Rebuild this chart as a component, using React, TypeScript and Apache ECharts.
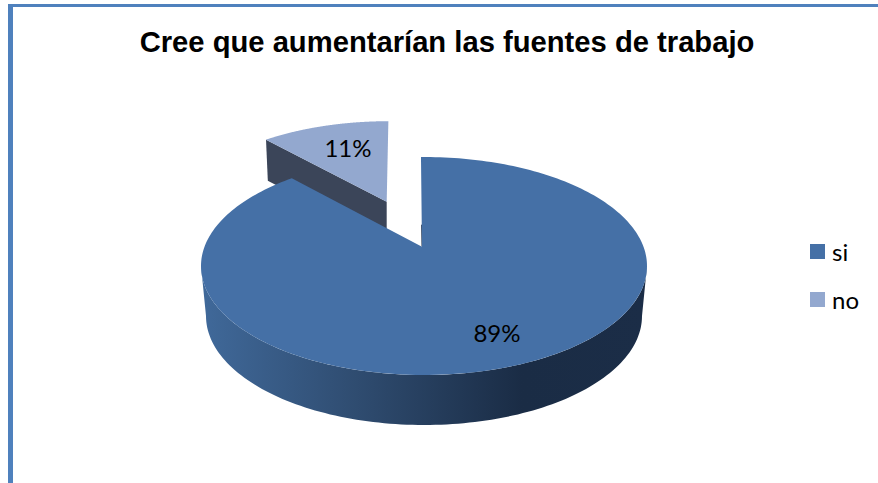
import React, { useEffect, useRef } from "react";
import * as echarts from "echarts";

const titleText = "Cree que aumentarían las fuentes de trabajo";
const categories = ["si", "no"];
const seriesValues = [89, 11];
const topColors = ["#4570A6", "#93A8CF"];
const sideStops = [
  { offset: 0, color: "#40699A" },
  { offset: 0.35, color: "#2F4C70" },
  { offset: 0.72, color: "#1A2C45" },
  { offset: 1, color: "#1B2D47" },
];
const wallColor = "#3B4559";

const total = seriesValues.reduce((a, b) => a + b, 0);
const toRad = (v: number) => (v / total) * Math.PI * 2;

// Point on an ellipse rim reached from an off-centre apex, for a clockwise-from-north angle
function rimPoint(e: any, angle: number) {
  const dx = Math.sin(angle + e.tilt) * e.rx;
  const dy = -Math.cos(angle + e.tilt) * e.rayRy;
  const px = (e.ax - e.cx) / e.rx;
  const py = (e.ay - e.cy) / e.ry;
  const qx = dx / e.rx;
  const qy = dy / e.ry;
  const a = qx * qx + qy * qy;
  const b = 2 * (px * qx + py * qy);
  const c = px * px + py * py - 1;
  const t = (-b + Math.sqrt(b * b - 4 * a * c)) / (2 * a);
  return [e.ax + t * dx, e.ay + t * dy];
}

function sector(e: any, from: number, to: number) {
  const pts: number[][] = [[e.ax, e.ay]];
  const n = 240;
  for (let i = 0; i <= n; i++) pts.push(rimPoint(e, from + ((to - from) * i) / n));
  return pts;
}

function lowerArc(cx: number, cy: number, rx: number, ry: number) {
  const pts: number[][] = [];
  for (let i = 0; i <= 120; i++) {
    const t = Math.PI - (Math.PI * i) / 120;
    pts.push([cx + rx * Math.cos(t), cy + ry * Math.sin(t)]);
  }
  return pts;
}

const mainDisc = { cx: 424, cy: 266, rx: 223, ry: 109, rayRy: 98, ax: 422, ay: 246.7, tilt: -0.005 };
const mainBase = { cx: 424, cy: 316, rx: 218, ry: 109 };
const smallDisc = { cx: 388.7, cy: 221.2, rx: 212, ry: 100, rayRy: 88.6, ax: 386.7, ay: 201.7, tilt: 0.0087 };
const smallDepth = 41;

const labelStyle = { fill: "#000", fontFamily: "Lato", fontSize: 24, align: "center", verticalAlign: "middle" };

function renderMain(_p: any, api: any) {
  const value = api.value(0);
  const end = toRad(value);
  const top = sector(mainDisc, 0, end);
  const topLow = lowerArc(mainDisc.cx, mainDisc.cy, mainDisc.rx, mainDisc.ry);
  const baseLow = lowerArc(mainBase.cx, mainBase.cy, mainBase.rx, mainBase.ry).reverse();
  return {
    type: "group",
    children: [
      {
        type: "polygon",
        shape: { points: topLow.concat(baseLow) },
        style: { fill: new echarts.graphic.LinearGradient(0, 0, 1, 0, sideStops) },
      },
      {
        type: "line",
        shape: { x1: mainDisc.ax - 0.4, y1: mainDisc.ay - 22, x2: mainDisc.ax, y2: mainDisc.ay },
        style: { stroke: "#2A3A52", lineWidth: 1 },
      },
      { type: "polygon", shape: { points: top }, style: { fill: topColors[0] } },
      {
        type: "text",
        style: { ...labelStyle, text: `${Math.round((value / total) * 100)}%`, x: 497, y: 332 },
      },
    ],
  };
}

function renderSmall(_p: any, api: any) {
  const value = api.value(0);
  const start = toRad(seriesValues[0]);
  const end = start + toRad(value);
  const top = sector(smallDisc, start, end);
  const corner = rimPoint(smallDisc, start);
  const wall = [
    corner,
    [smallDisc.ax, smallDisc.ay],
    [smallDisc.ax, smallDisc.ay + smallDepth],
    [corner[0] + 1.8, corner[1] + smallDepth],
  ];
  return {
    type: "group",
    children: [
      { type: "polygon", shape: { points: wall }, style: { fill: wallColor } },
      { type: "polygon", shape: { points: top }, style: { fill: topColors[1] } },
      {
        type: "text",
        style: { ...labelStyle, text: `${Math.round((value / total) * 100)}%`, x: 348, y: 147 },
      },
    ],
  };
}

export default function App() {
  const ref = useRef<HTMLDivElement>(null);
  useEffect(() => {
    document.body.style.margin = "0";
    document.body.style.overflow = "hidden";
    const chart = echarts.init(ref.current!, undefined, { renderer: "svg" });
    chart.setOption({
      animation: false,
      backgroundColor: "#ffffff",
      title: {
        text: titleText,
        left: 442,
        top: 22,
        textAlign: "center",
        textStyle: { fontFamily: "Liberation Sans", fontWeight: "bold", fontSize: 29.2, color: "#000" },
      },
      legend: {
        data: categories,
        orient: "vertical",
        left: 810,
        top: 239.5,
        itemWidth: 15,
        itemHeight: 15,
        itemGap: 24,
        icon: "rect",
        padding: 0,
        textStyle: { fontFamily: "Lato", fontSize: 24, color: "#000", padding: [0, 0, 4, 2] },
      },
      graphic: [
        { type: "rect", shape: { x: 8, y: 4, width: 5, height: 479 }, style: { fill: "#4F81BD" }, silent: true },
        { type: "rect", shape: { x: 8, y: 4, width: 870, height: 3 }, style: { fill: "#4F81BD" }, silent: true },
      ],
      series: [
        {
          type: "custom",
          name: categories[1],
          coordinateSystem: "none",
          z: 2,
          itemStyle: { color: topColors[1] },
          data: [[seriesValues[1]]],
          renderItem: renderSmall,
        },
        {
          type: "custom",
          name: categories[0],
          coordinateSystem: "none",
          z: 3,
          itemStyle: { color: topColors[0] },
          data: [[seriesValues[0]]],
          renderItem: renderMain,
        },
      ],
    });
    return () => chart.dispose();
  }, []);
  return <div ref={ref} style={{ width: 878, height: 483 }} />;
}
